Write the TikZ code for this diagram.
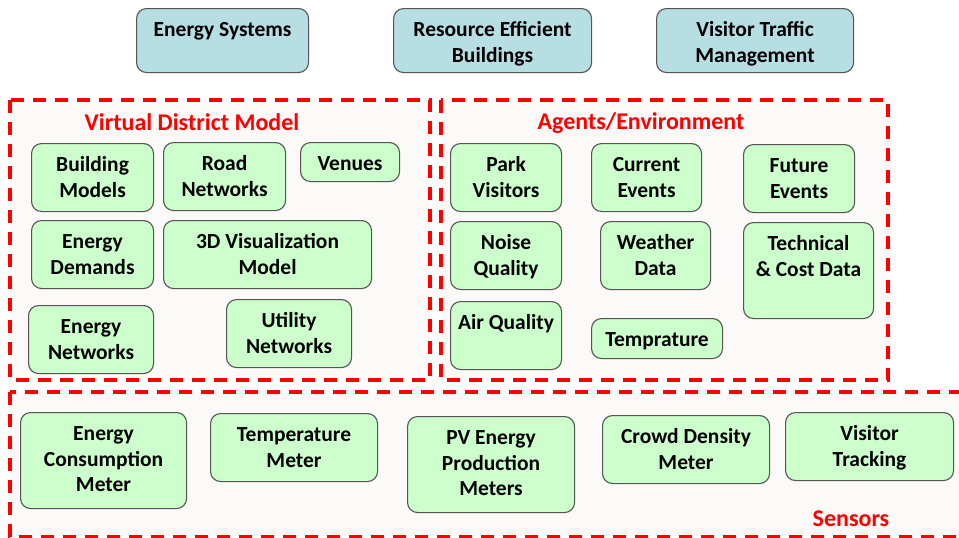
\documentclass[tikz,border=0pt]{standalone}
\usepackage{fontspec}
\setmainfont{Carlito}
\definecolor{gfill}{RGB}{204,255,204}
\definecolor{bfill}{RGB}{183,222,227}
\definecolor{edge}{RGB}{85,85,85}
\definecolor{regfill}{RGB}{252,250,249}
\newcommand\bx[7]{\node[#1, anchor=north west] (#2) at (#3,#4) {\parbox[t][#6pt][t]{#5pt}{\centering\rule{0pt}{28pt}#7}};}
\begin{document}
\begin{tikzpicture}[x=1pt,y=-1pt,
  every node/.style={font=\bfseries\fontsize{21.5}{25.5}\selectfont},
  gbox/.style={draw=edge, line width=1.1pt, fill=gfill, rounded corners=10pt, inner sep=0pt},
  bbox/.style={gbox, fill=bfill},
  region/.style={draw=red, line width=3.5pt, dash pattern=on 13pt off 9pt, fill=regfill},
  rtitle/.style={text=red, font=\bfseries\fontsize{24}{28}\selectfont, inner sep=0pt}]
\useasboundingbox (0,0) rectangle (959,538);
\fill[white] (0,0) rectangle (959,538);
% regions
\draw[region] (10,100) rectangle (430,380);
\draw[region] (441,100) rectangle (888,380);
\draw[region] (10,392) rectangle (968,537);
\node[rtitle] (tvdm) at (192,122) {Virtual District Model};
\node[rtitle] (tage) at (641,123) {Agents/Environment};
\node[rtitle] (tsen) at (851,519) {Sensors};
% top boxes
\bx{bbox}{es}{136}{8}{172}{64}{Energy Systems}
\bx{bbox}{reb}{393}{8}{198}{64}{Resource Efficient\\Buildings}
\bx{bbox}{vtm}{656}{8}{197}{64}{Visitor Traffic\\Management}
% virtual district model
\bx{gbox}{bm}{31}{143}{122}{68}{Building\\Models}
\bx{gbox}{rn}{163}{142}{122}{68}{Road\\Networks}
\bx{gbox}{ven}{300}{142}{99}{39}{Venues}
\bx{gbox}{ed}{31}{220}{122}{68}{Energy\\Demands}
\bx{gbox}{vis}{163}{220}{208}{68}{3D Visualization\\Model}
\bx{gbox}{en}{28}{305}{125}{68}{Energy\\Networks}
\bx{gbox}{un}{226}{299}{125}{68}{Utility\\Networks}
% agents
\bx{gbox}{pv}{450}{143}{111}{68}{Park\\Visitors}
\bx{gbox}{ce}{591}{143}{110}{68}{Current\\Events}
\bx{gbox}{fe}{743}{144}{111}{68}{Future\\Events}
\bx{gbox}{nq}{450}{221}{111}{68}{Noise\\Quality}
\bx{gbox}{wd}{600}{221}{110}{68}{Weather\\Data}
\bx{gbox}{tc}{743}{222}{130}{96}{Technical\\\& Cost Data}
\bx{gbox}{aq}{450}{301}{111}{68}{Air Quality}
\bx{gbox}{tp}{591}{318}{131}{40}{Temprature}
% sensors
\bx{gbox}{ecm}{20}{412}{166}{96}{Energy\\Consumption\\Meter}
\bx{gbox}{tm}{210}{413}{167}{68}{Temperature\\Meter}
\bx{gbox}{pvm}{407}{416}{167}{96}{PV Energy\\Production\\Meters}
\bx{gbox}{cdm}{602}{415}{167}{68}{Crowd Density\\Meter}
\bx{gbox}{vt}{785}{412}{168}{68}{Visitor\\Tracking}
\end{tikzpicture}
\end{document}
